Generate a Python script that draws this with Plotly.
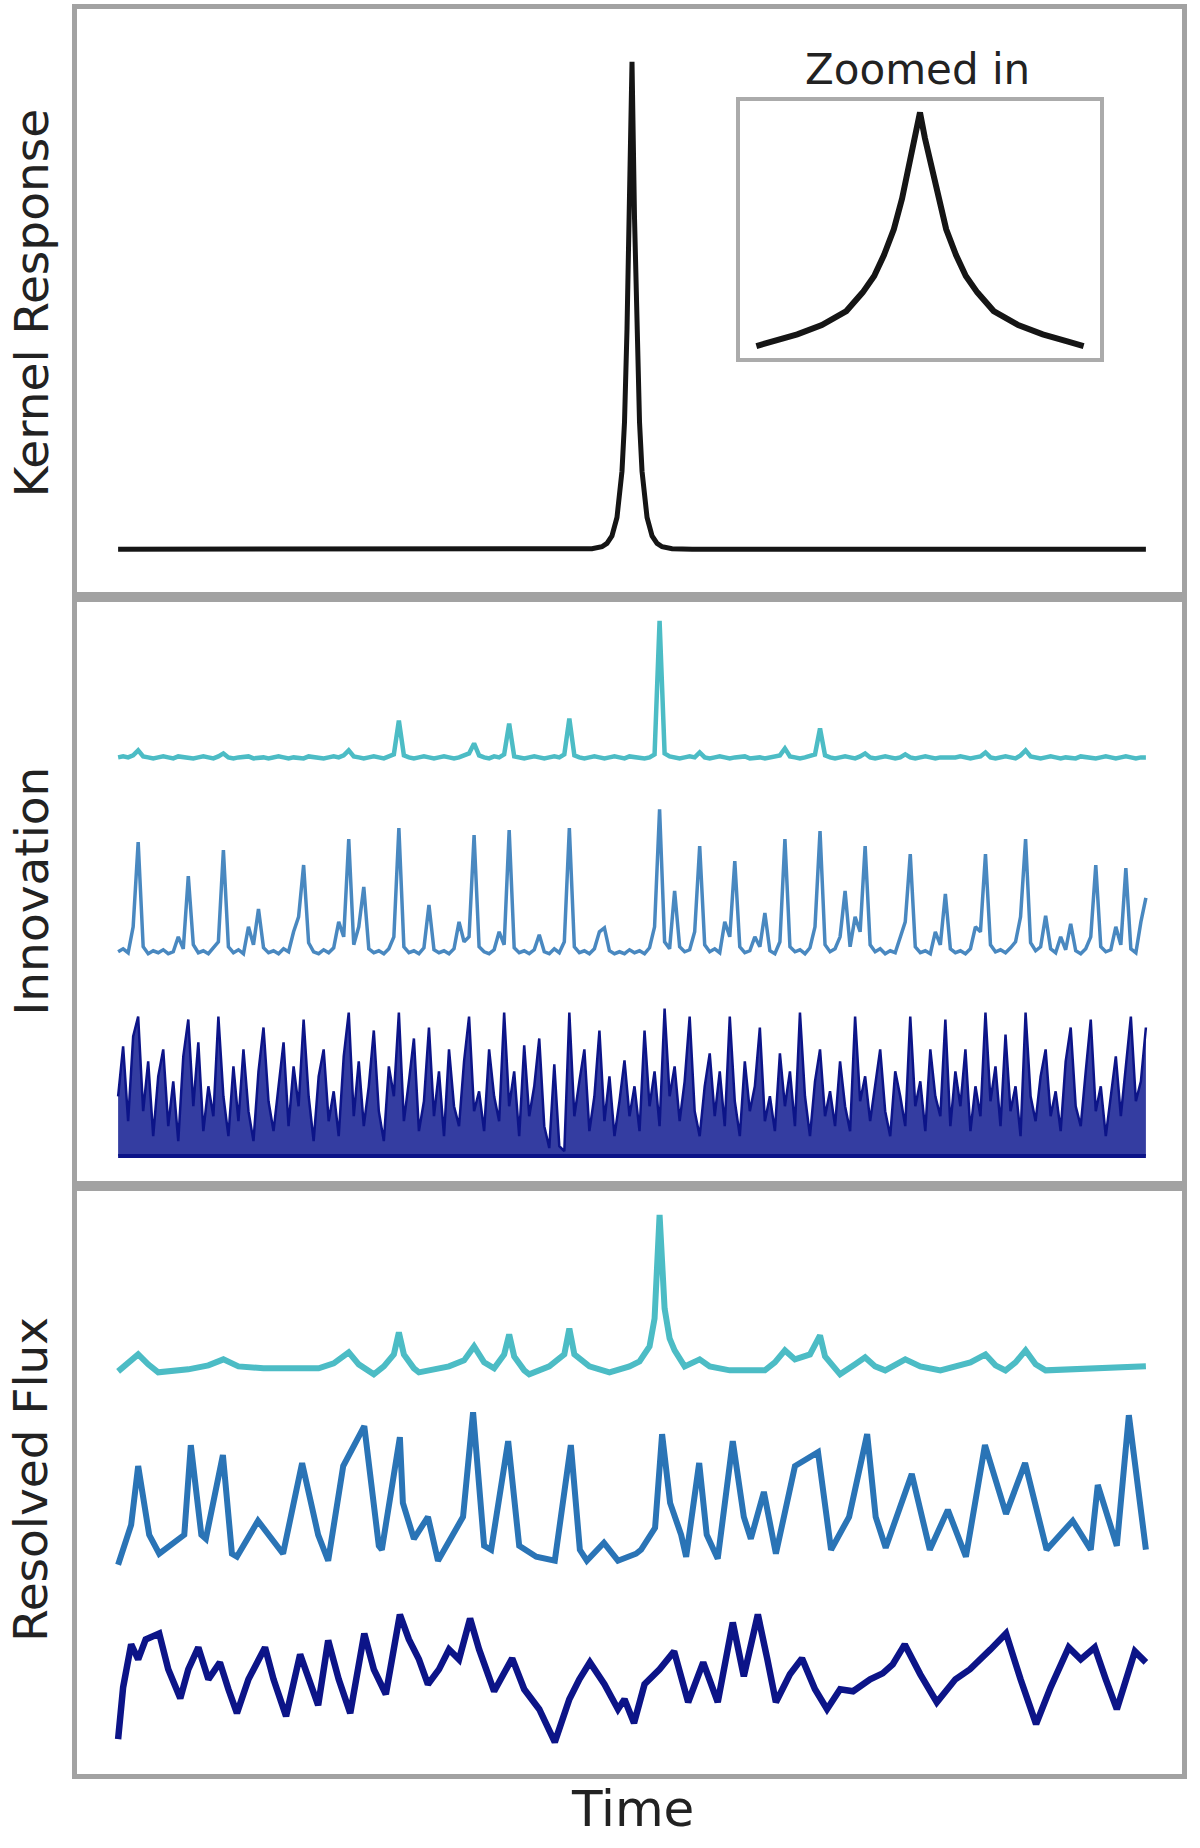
import numpy as np
import plotly.graph_objects as go
from plotly.subplots import make_subplots

# time grid shared by the innovation series
t = np.arange(206)

# kernel response (normalised), lag in time steps
kernel_lag = [-102.5, -12, -8, -6, -5, -4, -3, -2, -1.5, -1, -0.5, 0,
              0.5, 1, 1.5, 2, 3, 4, 5, 6, 8, 12, 102.5]
kernel_val = [0, 0, 0.001, 0.005, 0.012, 0.027, 0.065, 0.16, 0.26, 0.45, 0.68, 1.0,
              0.68, 0.45, 0.26, 0.16, 0.065, 0.027, 0.012, 0.005, 0.001, 0, 0]

# zoomed-in view of the kernel peak
inset_lag = [-1.0, -0.95, -0.9, -0.75, -0.6, -0.45, -0.35, -0.28, -0.22, -0.16, -0.11, -0.07, -0.03, 0,
             0.03, 0.07, 0.11, 0.16, 0.22, 0.28, 0.35, 0.45, 0.6, 0.75, 0.9, 0.95, 1.0]
inset_val = [0.0, 0.01, 0.02, 0.05, 0.09, 0.15, 0.23, 0.3, 0.39, 0.5, 0.63, 0.77, 0.89, 1.0,
             0.89, 0.77, 0.63, 0.5, 0.39, 0.3, 0.23, 0.15, 0.09, 0.05, 0.02, 0.01, 0.0]

# innovations (arbitrary units)
cyan_innov = [
    1, 2, 1, 3, 8, 2, 1, 0, 1, 2,
    1, 0, 2, 1, 1, 0, 1, 2, 1, 0,
    2, 5, 1, 0, 1, 1, 2, 0, 1, 1,
    0, 1, 2, 1, 0, 1, 1, 0, 2, 1,
    1, 0, 1, 2, 1, 3, 8, 2, 1, 0,
    1, 2, 1, 0, 2, 4, 38, 3, 1, 0,
    1, 2, 1, 0, 1, 2, 1, 0, 1, 3,
    5, 15, 3, 1, 0, 2, 1, 4, 35, 2,
    1, 0, 1, 2, 1, 0, 1, 2, 1, 4,
    40, 3, 1, 0, 1, 2, 1, 0, 1, 2,
    1, 0, 2, 1, 1, 0, 1, 4, 138, 5,
    2, 1, 0, 1, 2, 1, 6, 1, 0, 1,
    2, 1, 0, 1, 1, 2, 0, 1, 1, 0,
    1, 2, 3, 10, 2, 1, 0, 1, 2, 4,
    30, 3, 1, 0, 1, 2, 1, 0, 2, 5,
    1, 0, 1, 2, 1, 0, 1, 4, 1, 0,
    1, 2, 1, 0, 1, 1, 0, 1, 2, 1,
    0, 1, 2, 6, 1, 0, 1, 2, 1, 0,
    3, 8, 2, 1, 0, 1, 2, 1, 0, 1,
    1, 0, 2, 1, 1, 0, 1, 2, 1, 0,
    1, 2, 1, 0, 1, 1,
]
mid_innov = [
    5, 8, 4, 30, 115, 10, 3, 6, 4, 7,
    3, 5, 20, 8, 81, 12, 4, 6, 3, 9,
    15, 107, 10, 4, 7, 3, 30, 12, 48, 9,
    4, 6, 3, 8, 5, 25, 40, 92, 14, 5,
    3, 7, 4, 9, 35, 20, 118, 12, 30, 70,
    8, 4, 6, 3, 8, 20, 129, 10, 4, 6,
    3, 9, 52, 7, 4, 6, 3, 8, 35, 15,
    20, 122, 10, 5, 3, 7, 25, 12, 127, 9,
    4, 6, 3, 7, 22, 5, 3, 8, 4, 15,
    129, 10, 4, 6, 3, 8, 25, 29, 6, 3,
    5, 3, 7, 4, 6, 3, 9, 30, 148, 15,
    8, 66, 10, 5, 7, 25, 111, 12, 5, 8,
    4, 35, 20, 96, 10, 4, 6, 20, 10, 44,
    6, 3, 15, 118, 10, 5, 7, 3, 9, 30,
    126, 12, 5, 8, 20, 66, 10, 40, 25, 111,
    12, 5, 8, 3, 6, 4, 20, 35, 103, 10,
    4, 6, 3, 25, 12, 63, 8, 4, 6, 3,
    8, 30, 25, 103, 12, 5, 7, 4, 9, 15,
    40, 118, 14, 6, 10, 41, 8, 4, 20, 7,
    33, 6, 3, 8, 20, 92, 10, 5, 7, 30,
    12, 89, 8, 4, 35, 59,
]
navy_innov = [
    60, 110, 35, 120, 140, 45, 95, 20, 80, 107,
    30, 75, 15, 100, 137, 50, 114, 25, 70, 40,
    140, 60, 20, 90, 35, 107, 45, 15, 85, 129,
    55, 25, 70, 114, 30, 90, 50, 137, 60, 15,
    80, 107, 35, 65, 20, 100, 144, 40, 95, 30,
    70, 126, 45, 15, 90, 60, 144, 35, 75, 118,
    25, 55, 129, 40, 85, 20, 107, 50, 30, 95,
    140, 45, 65, 25, 107, 60, 35, 144, 50, 85,
    20, 111, 40, 70, 118, 30, 8, 92, 10, 5,
    144, 40, 75, 107, 25, 60, 126, 35, 80, 20,
    55, 96, 40, 70, 25, 126, 50, 85, 30, 148,
    60, 90, 35, 75, 140, 45, 20, 70, 103, 40,
    85, 30, 140, 55, 20, 95, 45, 70, 129, 35,
    60, 25, 103, 50, 85, 30, 144, 60, 20, 75,
    107, 40, 65, 30, 95, 50, 25, 140, 55, 80,
    35, 70, 107, 45, 20, 85, 60, 30, 140, 50,
    75, 25, 107, 60, 40, 137, 30, 85, 50, 107,
    25, 70, 40, 144, 55, 90, 30, 122, 45, 70,
    20, 144, 60, 35, 80, 107, 40, 65, 25, 95,
    129, 50, 30, 85, 137, 45, 70, 20, 60, 100,
    40, 90, 140, 55, 75, 129,
]

# resolved flux (arbitrary units), read at turning points
cyan_flux_t = [0, 2, 4, 6, 8, 14, 18, 21, 24, 29, 40, 43, 46, 48, 51, 53, 55, 56, 57, 59,
               60, 66, 69, 71, 73, 75, 76, 77, 78, 79, 81, 82, 86, 89, 90, 91, 94, 98, 102, 104,
               106, 107, 108, 109, 110, 111, 113, 116, 118, 122, 129, 131, 133, 135, 138, 140, 141, 144, 147, 149,
               151, 153, 157, 160, 164, 170, 173, 175, 177, 179, 181, 183, 185, 195, 205]
cyan_flux = [-3, 6, 14, 4, -4, -1, 3, 9, 2, 0, 0, 5, 16, 4, -6, 2, 14, 36, 14, 0,
             -4, 2, 8, 22, 6, 0, 6, 14, 34, 12, -2, -6, 2, 14, 40, 14, 2, -4, 2, 7,
             22, 50, 154, 60, 30, 18, 2, 9, 2, -2, -2, 6, 18, 9, 14, 33, 12, -6, 4, 11,
             2, -2, 9, 2, -2, 6, 14, 3, -2, 6, 18, 4, -2, 0, 2]

mid_flux_t = [0, 2.6, 4, 6.2, 8.2, 13.2, 14.5, 16.6, 17.5, 20.9, 22.7, 23.7, 27.9, 32.9, 34.9, 36.7, 39.9, 41.9, 44.9, 49.1,
              52, 52.6, 56.2, 56.8, 59, 61.8, 63.8, 68.8, 70.8, 73, 74.4, 77.8, 80, 83.4, 87.1, 90.3, 92.1, 93.5, 96.9, 99.7,
              103.3, 104.3, 107.1, 108.5, 110.1, 112.3, 113.3, 115.9, 117.4, 119.6, 122.6, 124.8, 126.2, 128.8, 131.2, 135, 139.6, 142.2, 145.8, 149.4,
              151.1, 153.1, 158.3, 161.9, 165.5, 169.1, 172.9, 177.1, 180.9, 185.2, 190.4, 194, 195.4, 199.2, 201.6, 204.2, 205]
mid_flux = [-4, 36, 95, 26, 7, 26, 116, 26, 22, 106, 7, 4, 40, 7, 55, 98, 26, 0, 95, 135,
            15, 11, 124, 58, 22, 44, 0, 44, 149, 15, 11, 120, 15, 4, 0, 116, 11, 0, 18, 0,
            7, 11, 33, 127, 58, 26, 4, 98, 26, 2, 120, 44, 22, 69, 7, 95, 109, 11, 44, 127,
            44, 13, 87, 11, 51, 4, 116, 47, 98, 11, 40, 11, 76, 15, 146, 47, 11]

navy_flux_t = [0, 1, 2.6, 4, 5.5, 8.2, 10, 12.4, 14, 16, 18, 20.3, 22, 23.7, 26, 29.3, 31, 33.5, 36.3, 38,
               39.9, 41.9, 44, 46.3, 49.1, 51, 53.4, 56.2, 58, 60, 61.8, 64, 66, 68, 70.2, 72, 75, 78.6, 81, 84,
               87.1, 90, 92, 94.1, 97, 99.7, 101, 102.9, 105, 108, 110.9, 113.7, 116.7, 119.6, 122.6, 124.8, 127.6, 129.5, 131.2, 134,
               136.4, 139, 141.4, 144, 146.6, 150, 152.5, 154.5, 156.9, 160, 163.3, 167, 169.9, 174, 177.1, 180, 183.1, 186, 189.6, 192,
               194.8, 197, 199.2, 202.8, 205]
navy_flux = [-60, -8, 35, 20, 40, 46, 10, -19, 10, 32, 0, 17, -10, -34, 0, 32, 0, -37, 25, 0,
             -26, 39, 0, -34, 46, 10, -15, 65, 40, 20, -5, 10, 30, 20, 61, 30, -12, 21, -10, -30,
             -63, -20, 0, 17, -5, -30, -20, -44, -5, 10, 28, -23, 17, -23, 57, 3, 65, 20, -23, 5,
             21, -10, -30, -10, -12, 0, 6, 15, 35, 5, -23, 0, 10, 30, 46, 0, -45, -8, 32, 20,
             32, 0, -30, 28, 17]

# colours and vertical placement of the stacked series
colors = {'cyan': '#4cbcc5', 'mid': '#2a74b6', 'navy': '#0c1488'}
innov_offset = {'cyan': 428.7, 'mid': 229.7, 'navy': 29.7}
flux_offset = {'cyan': 407, 'mid': 214, 'navy': 95}
frame = '#a2a2a2'

fig = make_subplots(rows=3, cols=1, vertical_spacing=0)

# kernel
fig.add_trace(go.Scatter(x=kernel_lag, y=kernel_val, mode='lines',
                         line=dict(color='#151515', width=5)), row=1, col=1)
fig.add_trace(go.Scatter(x=inset_lag, y=inset_val, mode='lines', xaxis='x4', yaxis='y4',
                         line=dict(color='#151515', width=6)))

# innovations
fig.add_trace(go.Scatter(x=t, y=np.array(cyan_innov) + innov_offset['cyan'], mode='lines',
                         line=dict(color=colors['cyan'], width=4.5)), row=2, col=1)
fig.add_trace(go.Scatter(x=t, y=np.array(mid_innov) + innov_offset['mid'], mode='lines',
                         line=dict(color=colors['mid'], width=3.5), opacity=0.85), row=2, col=1)
fig.add_trace(go.Scatter(x=t, y=np.full(len(t), innov_offset['navy']), mode='lines',
                         line=dict(color=colors['navy'], width=4)), row=2, col=1)
fig.add_trace(go.Scatter(x=t, y=np.array(navy_innov) + innov_offset['navy'], mode='lines',
                         line=dict(color=colors['navy'], width=2.5), fill='tonexty',
                         fillcolor='rgba(24,34,148,0.88)'), row=2, col=1)

# resolved flux
fig.add_trace(go.Scatter(x=cyan_flux_t, y=np.array(cyan_flux) + flux_offset['cyan'], mode='lines',
                         line=dict(color=colors['cyan'], width=6)), row=3, col=1)
fig.add_trace(go.Scatter(x=mid_flux_t, y=np.array(mid_flux) + flux_offset['mid'], mode='lines',
                         line=dict(color=colors['mid'], width=6)), row=3, col=1)
fig.add_trace(go.Scatter(x=navy_flux_t, y=np.array(navy_flux) + flux_offset['navy'], mode='lines',
                         line=dict(color=colors['navy'], width=6.5)), row=3, col=1)

axis_style = dict(showline=True, mirror=True, linecolor=frame, linewidth=5,
                  showticklabels=False, ticks='', showgrid=False, zeroline=False)
fig.update_xaxes(**axis_style)
fig.update_yaxes(**axis_style)
fig.update_xaxes(range=[-110.7, 109.7], row=1, col=1)
fig.update_xaxes(range=[-8.2, 212.2], row=2, col=1)
fig.update_xaxes(range=[-8.2, 212.2], row=3, col=1)
fig.update_yaxes(range=[-0.0988, 1.1084], row=1, col=1)
fig.update_yaxes(range=[0, 590.3], row=2, col=1)
fig.update_yaxes(range=[0, 590.3], row=3, col=1)

fig.update_layout(
    xaxis4=dict(domain=[0.600, 0.9258], anchor='y4', range=[-1.1, 1.1], showline=True, mirror=True,
                linecolor='#ababab', linewidth=4, showticklabels=False, ticks='',
                showgrid=False, zeroline=False),
    yaxis4=dict(domain=[0.8024, 0.948], anchor='x4', range=[-0.05, 1.05], showline=True, mirror=True,
                linecolor='#ababab', linewidth=4, showticklabels=False, ticks='',
                showgrid=False, zeroline=False),
    width=1200, height=1848,
    margin=dict(l=77, r=18, t=4, b=74),
    plot_bgcolor='white', paper_bgcolor='white',
    showlegend=False,
    font=dict(family='DejaVu Sans', size=47, color='#222'),
)

label_font = dict(family='DejaVu Sans', size=47, color='#222')
for text, yc in [('Kernel Response', 5 / 6), ('Innovation', 0.5), ('Resolved Flux', 1 / 6)]:
    fig.add_annotation(text=text, xref='paper', yref='paper', x=-0.0416, y=yc,
                       xanchor='center', yanchor='middle', textangle=-90,
                       showarrow=False, font=label_font)
fig.add_annotation(text='Time', xref='paper', yref='paper', x=0.503, y=-0.0198,
                   xanchor='center', yanchor='middle', showarrow=False,
                   font=dict(family='DejaVu Sans', size=50, color='#222'))
fig.add_annotation(text='Zoomed in', xref='paper', yref='paper', x=0.7606, y=0.966,
                   xanchor='center', yanchor='middle', showarrow=False,
                   font=dict(family='DejaVu Sans', size=42, color='#222'))

# drop the default page margin so the figure sits at the window's corner
fig.write_html("out.html", config={'displayModeBar': False},
               post_script="document.body.style.margin = '0';")
